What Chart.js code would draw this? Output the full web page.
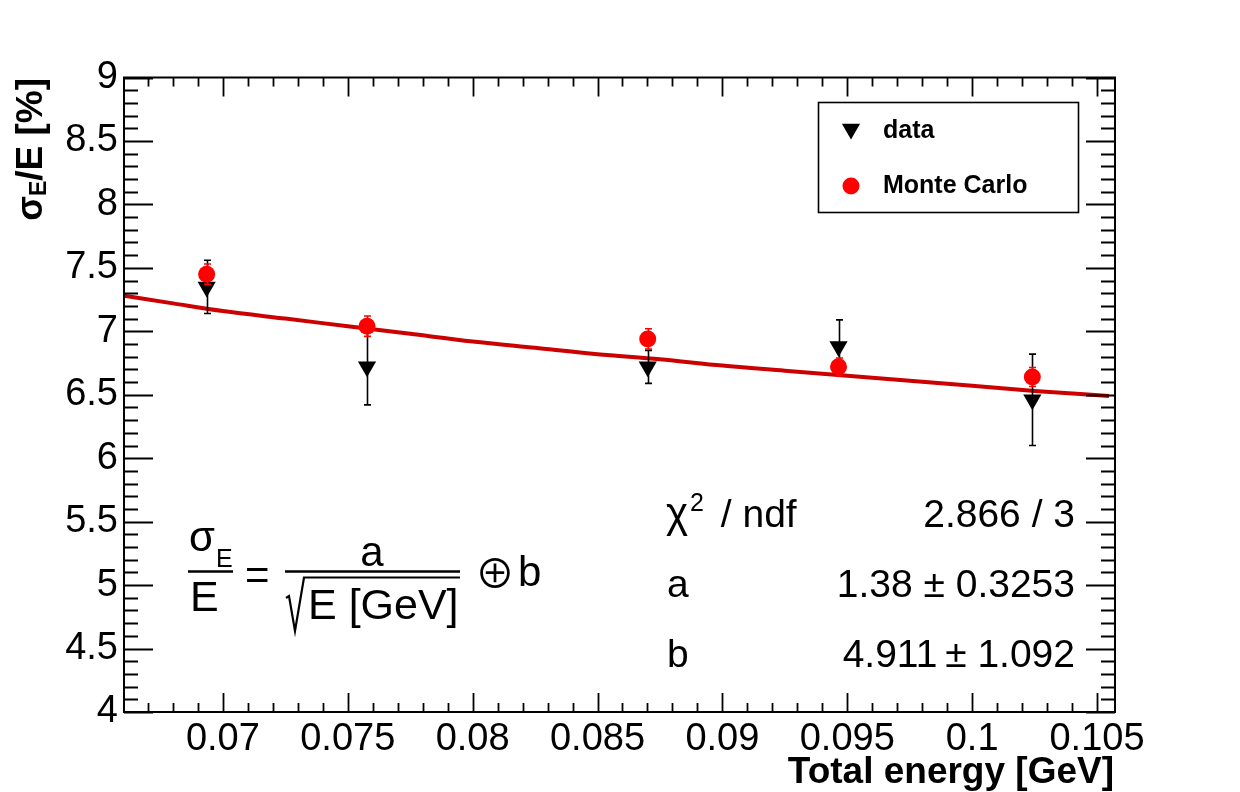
<!DOCTYPE html>
<html><head><meta charset="utf-8">
<script src="https://cdn.jsdelivr.net/npm/chart.js@4/dist/chart.umd.min.js"></script>
<style>html,body{margin:0;padding:0;background:#fff;overflow:hidden}#wrap{width:1240px;height:792px;position:relative}</style>
</head><body><div id="wrap"><canvas id="c" width="1240" height="792"></canvas></div>
<script>
// ---- data ----
const energyData = [0.06935, 0.07577, 0.08701, 0.09465, 0.10241];
const sigmaData = [7.35, 6.72, 6.72, 6.88, 6.46];
const sigmaDataErr = [0.21, 0.30, 0.13, 0.21, 0.36];
const energyMC = [0.06935, 0.07577, 0.08701, 0.09465, 0.10241];
const sigmaMC = [7.45, 7.04, 6.94, 6.72, 6.64];
const sigmaMCErr = [0.08, 0.08, 0.08, 0.07, 0.075];
const fitEnergy = [0.06604, 0.068, 0.070, 0.0725, 0.075, 0.0775, 0.080, 0.0825, 0.085, 0.0875, 0.090, 0.0925, 0.095, 0.0975, 0.100, 0.1025, 0.10548];
const fitSigma  = [7.28, 7.22, 7.16, 7.10, 7.04, 6.98, 6.92, 6.87, 6.82, 6.78, 6.73, 6.69, 6.65, 6.61, 6.57, 6.53, 6.49];
const xTickValues = [0.07, 0.075, 0.08, 0.085, 0.09, 0.095, 0.1, 0.105];
const xTickLabels = ['0.07', '0.075', '0.08', '0.085', '0.09', '0.095', '0.1', '0.105'];
const yTickValues = [4, 4.5, 5, 5.5, 6, 6.5, 7, 7.5, 8, 8.5, 9];
const yTickLabels = ['4', '4.5', '5', '5.5', '6', '6.5', '7', '7.5', '8', '8.5', '9'];
const xRange = [0.06604, 0.10572];
const yRange = [4, 9];
const legendLabels = ['data', 'Monte Carlo'];
const statNames = ['a', 'b'];
const statValues = ['1.38 \u00b1 0.3253', '4.911\u2009\u00b1 1.092'];
const chi2Text = '2.866 / 3';

const FONT = "'Liberation Sans', Arial, Helvetica, sans-serif";
Chart.defaults.font.family = FONT;

function drawErrors(chart, dsIndex, errs, color) {
  const ctx = chart.ctx, xs = chart.scales.x, ys = chart.scales.y;
  const ds = chart.data.datasets[dsIndex];
  ctx.save();
  ctx.strokeStyle = color; ctx.lineWidth = 1.6;
  ds.data.forEach((p, i) => {
    const px = Math.round(xs.getPixelForValue(p.x)) + 0.5;
    const y1 = ys.getPixelForValue(p.y + errs[i]);
    const y2 = ys.getPixelForValue(p.y - errs[i]);
    ctx.beginPath();
    ctx.moveTo(px, y1); ctx.lineTo(px, y2);
    ctx.moveTo(px - 3.5, y1); ctx.lineTo(px + 3.5, y1);
    ctx.moveTo(px - 3.5, y2); ctx.lineTo(px + 3.5, y2);
    ctx.stroke();
  });
  ctx.restore();
}

const rootPlugin = {
  id: 'rootStyle',
  beforeDatasetDraw(chart, args) {
    if (args.index === 1) drawErrors(chart, 1, sigmaDataErr, '#000');
    if (args.index === 0) drawErrors(chart, 0, sigmaMCErr, '#ff0000');
  },
  afterDraw(chart) {
    const ctx = chart.ctx, a = chart.chartArea, xs = chart.scales.x, ys = chart.scales.y;
    ctx.save();
    // frame
    ctx.strokeStyle = '#000'; ctx.lineWidth = 2;
    ctx.strokeRect(a.left, a.top, a.right - a.left, a.bottom - a.top);
    // ticks
    ctx.lineWidth = 1.8;
    ctx.beginPath();
    for (let k = 67; k <= 105; k++) {
      const v = k / 1000;
      const px = Math.round(xs.getPixelForValue(v)) + 0.5;
      const major = (k % 5 === 0);
      const L = major ? 19 : 9;
      ctx.moveTo(px, a.bottom); ctx.lineTo(px, a.bottom - L);
      ctx.moveTo(px, a.top); ctx.lineTo(px, a.top + L);
    }
    for (let k = 40; k <= 90; k++) {
      const v = k / 10;
      const py = Math.round(ys.getPixelForValue(v)) + 0.5;
      const major = (k % 5 === 0);
      const L = major ? 29 : 14;
      ctx.moveTo(a.left, py); ctx.lineTo(a.left + L, py);
      ctx.moveTo(a.right, py); ctx.lineTo(a.right - L, py);
    }
    ctx.stroke();

    // legend
    ctx.lineWidth = 1.6;
    ctx.strokeRect(818.5, 102.5, 260, 110);
    ctx.fillStyle = '#000';
    Chart.helpers.drawPoint(ctx, {pointStyle: 'triangle', rotation: 180, radius: 10.5, borderWidth: 0}, 851, 129);
    ctx.fillStyle = '#ff0000';
    Chart.helpers.drawPoint(ctx, {pointStyle: 'circle', rotation: 0, radius: 8.5, borderWidth: 0}, 851, 186);
    ctx.fillStyle = '#000';
    ctx.font = 'bold 25px ' + FONT;
    ctx.textAlign = 'left'; ctx.textBaseline = 'middle';
    ctx.fillText(legendLabels[0], 883, 131);
    ctx.fillText(legendLabels[1], 883, 186);

    // x title
    ctx.textBaseline = 'alphabetic';
    ctx.font = 'bold 37px ' + FONT;
    ctx.textAlign = 'right';
    ctx.fillText('Total energy [GeV]', 1114, 783);

    // y title (rotated)
    ctx.save();
    ctx.textAlign = 'left';
    const f1 = 'bold 36px ' + FONT, f2 = 'bold 23px ' + FONT, f3 = 'bold 37px ' + FONT;
    ctx.font = f1; const w1 = ctx.measureText('\u03c3').width;
    ctx.font = f2; const w2 = ctx.measureText('E').width;
    ctx.font = f3; const w3 = ctx.measureText('/E [%]').width;
    const tot = w1 + w2 + w3;
    ctx.translate(42, 78 + tot);
    ctx.rotate(-Math.PI / 2);
    ctx.font = f1; ctx.fillText('\u03c3', 0, 0);
    ctx.font = f2; ctx.fillText('E', w1, 4);
    ctx.font = f3; ctx.fillText('/E [%]', w1 + w2, 0);
    ctx.restore();

    // formula
    ctx.textAlign = 'left';
    ctx.font = '42px ' + FONT; ctx.fillText('\u03c3', 189, 551);
    ctx.font = '25px ' + FONT; ctx.fillText('E', 216, 567);
    ctx.font = '43px ' + FONT; ctx.fillText('E', 190, 611);
    ctx.lineWidth = 2.5;
    ctx.beginPath(); ctx.moveTo(188, 571.5); ctx.lineTo(233, 571.5); ctx.stroke();
    ctx.font = '42px ' + FONT; ctx.fillText('=', 245, 589);
    ctx.textAlign = 'center';
    ctx.fillText('a', 372, 566);
    ctx.textAlign = 'left';
    ctx.beginPath(); ctx.moveTo(285, 571.5); ctx.lineTo(460, 571.5); ctx.stroke();
    ctx.lineWidth = 2.2;
    ctx.beginPath();
    ctx.moveTo(286, 598); ctx.lineTo(289, 596); ctx.lineTo(295, 631); ctx.lineTo(304, 577.5); ctx.lineTo(460, 577.5);
    ctx.stroke();
    ctx.font = '43px ' + FONT; ctx.fillText('E [GeV]', 308, 619);
    ctx.font = "40px 'Noto Sans CJK JP', 'DejaVu Sans', sans-serif"; ctx.fillText('\u2295', 475, 588);
    ctx.font = '42px ' + FONT; ctx.fillText('b', 518, 586);

    // stats box text
    ctx.textAlign = 'left';
    ctx.font = '42px ' + FONT;
    ctx.fillText('\u03c7', 666, 527);
    const wchi = ctx.measureText('\u03c7').width;
    ctx.font = '25px ' + FONT; ctx.fillText('2', 666 + wchi + 2, 511);
    const w2s = ctx.measureText('2').width;
    ctx.font = '39px ' + FONT; ctx.fillText(' / ndf', 666 + wchi + w2s + 8, 527);
    ctx.fillText(statNames[0], 667, 597);
    ctx.fillText(statNames[1], 667, 667);
    ctx.textAlign = 'right';
    ctx.fillText(chi2Text, 1075, 527);
    ctx.fillText(statValues[0], 1075, 597);
    ctx.fillText(statValues[1], 1075, 667);
    ctx.restore();
  }
};

const ctx = document.getElementById('c').getContext('2d');
new Chart(ctx, {
  type: 'scatter',
  data: {
    datasets: [
      { label: 'Monte Carlo', data: energyMC.map((x, i) => ({x, y: sigmaMC[i]})),
        pointStyle: 'circle', pointRadius: 8.5, pointBackgroundColor: '#ff0000', pointBorderWidth: 0,
        borderColor: '#ff0000', showLine: false },
      { label: 'data', data: energyData.map((x, i) => ({x, y: sigmaData[i]})),
        pointStyle: 'triangle', pointRotation: 180, pointRadius: 10.5, pointBackgroundColor: '#000', pointBorderWidth: 0,
        borderColor: '#000', showLine: false },
      { label: 'fit', data: fitEnergy.map((x, i) => ({x, y: fitSigma[i]})),
        showLine: true, pointRadius: 0, borderColor: '#cc0000', borderWidth: 4,
        tension: 0.4, cubicInterpolationMode: 'monotone', fill: false }
    ]
  },
  options: {
    responsive: false, animation: false, devicePixelRatio: 1,
    layout: { padding: { left: 0, right: 125, top: 77.5, bottom: 0 } },
    plugins: { legend: { display: false }, tooltip: { enabled: false } },
    scales: {
      x: {
        type: 'linear', min: xRange[0], max: xRange[1],
        afterBuildTicks: s => { s.ticks = xTickValues.map(v => ({value: v})); },
        afterFit: s => { s.height = 80; },
        grid: { display: false, drawTicks: false }, border: { display: false },
        ticks: { font: { size: 38 }, color: '#000', padding: 5, maxRotation: 0, minRotation: 0, autoSkip: false,
                 callback: (v, i) => xTickLabels[i] }
      },
      y: {
        type: 'linear', min: yRange[0], max: yRange[1],
        afterBuildTicks: s => { s.ticks = yTickValues.map(v => ({value: v})); },
        afterFit: s => { s.width = 124; },
        grid: { display: false, drawTicks: false }, border: { display: false },
        ticks: { font: { size: 38 }, color: '#000', padding: 6, autoSkip: false,
                 callback: (v, i) => yTickLabels[i] }
      }
    }
  },
  plugins: [rootPlugin]
});
</script>
</body></html>
